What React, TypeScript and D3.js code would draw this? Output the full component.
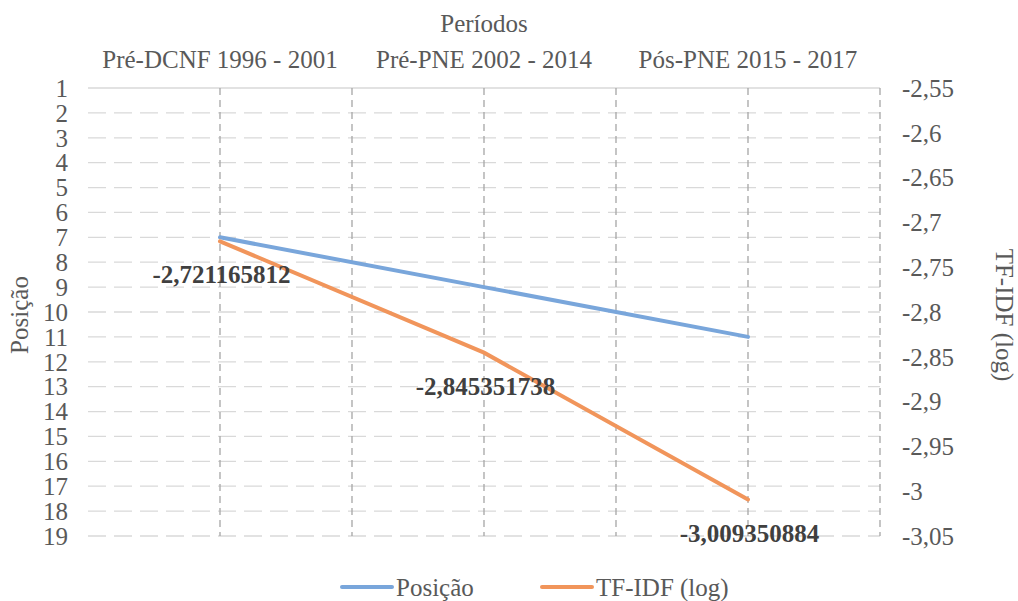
import React from 'react';
import * as d3 from 'd3';

const categories = ['Pré-DCNF 1996 - 2001', 'Pré-PNE 2002 - 2014', 'Pós-PNE 2015 - 2017'];
const posicao = [7, 9, 11];
const tfidf = [-2.721165812, -2.845351738, -3.009350884];
const leftTicks = d3.range(1, 20);
const rightTicks = [-2.55, -2.6, -2.65, -2.7, -2.75, -2.8, -2.85, -2.9, -2.95, -3, -3.05];

const width = 1018;
const height = 601;
const margin = { top: 88, right: 138, bottom: 65, left: 88 };
const fs = 25;
const textColor = '#595959';
const blue = '#79A6DB';
const orange = '#F1955B';

const x = d3.scaleBand<string>()
  .domain(categories)
  .range([margin.left, width - margin.right]);
const cx = (c: string) => x(c)! + x.bandwidth() / 2;

const yL = d3.scaleLinear().domain([1, 19]).range([margin.top, height - margin.bottom]);
const yR = d3.scaleLinear().domain([-2.55, -3.05]).range([margin.top, height - margin.bottom]);

const lineL = d3.line<number>()
  .x((_, i) => cx(categories[i]))
  .y(d => yL(d));
const lineR = d3.line<number>()
  .x((_, i) => cx(categories[i]))
  .y(d => yR(d));

const fmt = (v: number) => String(v).replace('.', ',');

const legend = [
  { name: 'Posição', color: blue, x: 342 },
  { name: 'TF-IDF (log)', color: orange, x: 542 },
];

const App: React.FC = () => {
  const vx = [...categories.map(cx), ...categories.map(c => x(c)! + x.bandwidth())];
  const midY = 315;
  const txt = { fontFamily: 'Liberation Serif', fontSize: fs };

  return (
    <svg
      width={width}
      height={height}
      style={{ position: 'absolute', left: 0, top: 0, background: '#fff', fontFamily: 'Liberation Serif' }}
    >
      {/* horizontal grid */}
      <g>
        {leftTicks.map(d => (
          <line
            key={d}
            x1={margin.left}
            x2={width - margin.right}
            y1={yL(d)}
            y2={yL(d)}
            stroke="#d9d9d9"
            strokeWidth={1.3}
            strokeDasharray={d === 1 ? undefined : '18,8'}
          />
        ))}
      </g>

      {/* vertical grid */}
      <g>
        {vx.map((d, i) => (
          <line
            key={i}
            x1={d}
            x2={d}
            y1={margin.top}
            y2={height - margin.bottom}
            stroke="#a6a6a6"
            strokeWidth={1.3}
            strokeDasharray="7,5"
          />
        ))}
      </g>

      {/* left axis */}
      <g fill={textColor} textAnchor="end">
        {leftTicks.map(d => (
          <text key={d} x={68} y={yL(d)} dy="0.35em" style={txt}>{d}</text>
        ))}
      </g>

      {/* right axis */}
      <g fill={textColor} textAnchor="start">
        {rightTicks.map(d => (
          <text key={d} x={902} y={yR(d)} dy="0.35em" style={txt}>{fmt(d)}</text>
        ))}
      </g>

      {/* top categories */}
      <g fill={textColor} textAnchor="middle">
        {categories.map(c => (
          <text key={c} x={cx(c)} y={68} style={txt}>{c}</text>
        ))}
      </g>

      {/* axis titles */}
      <text x={(margin.left + width - margin.right) / 2} y={32} textAnchor="middle" fill={textColor} style={txt}>
        Períodos
      </text>
      <text transform={`translate(28,${midY}) rotate(-90)`} textAnchor="middle" fill={textColor} style={txt}>
        Posição
      </text>
      <text transform={`translate(996,${midY}) rotate(90)`} textAnchor="middle" fill={textColor} style={txt}>
        TF-IDF (log)
      </text>

      {/* lines */}
      <path d={lineL(posicao) ?? ''} fill="none" stroke={blue} strokeWidth={4} strokeLinecap="round" />
      <path d={lineR(tfidf) ?? ''} fill="none" stroke={orange} strokeWidth={4} strokeLinecap="round" />

      {/* data labels */}
      <g fill="#404040" textAnchor="middle">
        {tfidf.map((d, i) => (
          <text
            key={i}
            x={cx(categories[i]) + 1.5}
            y={yR(d) + 42}
            style={{ ...txt, fontWeight: 'bold' }}
          >
            {fmt(d)}
          </text>
        ))}
      </g>

      {/* legend */}
      <g>
        {legend.map(l => (
          <g key={l.name}>
            <line x1={l.x} x2={l.x + 50} y1={587} y2={587} stroke={l.color} strokeWidth={4} strokeLinecap="round" />
            <text x={l.x + 54} y={587} dy="0.35em" fill={textColor} style={txt}>{l.name}</text>
          </g>
        ))}
      </g>
    </svg>
  );
};

export default App;
